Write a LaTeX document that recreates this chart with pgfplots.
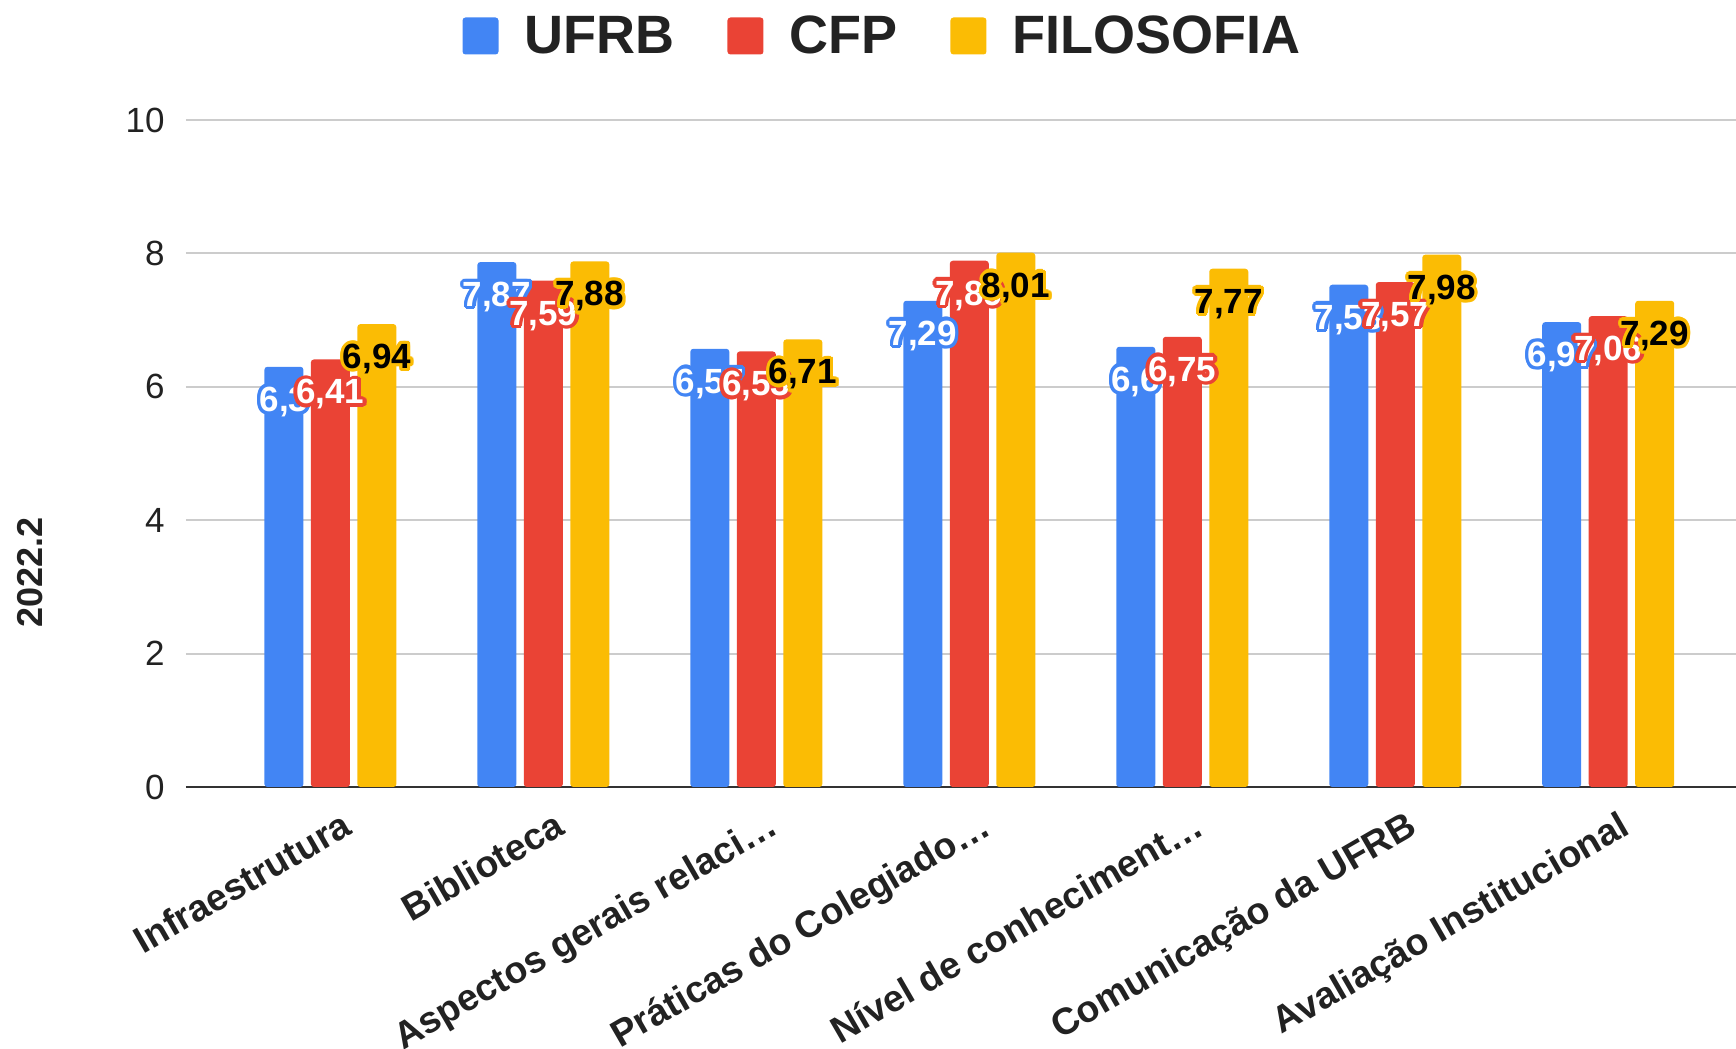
\documentclass[border=0pt]{standalone}
\usepackage{pgfplots}
\usepackage{pgfplotstable}
\pgfplotsset{compat=1.18}
\usepackage{fontspec}
\setmainfont{Liberation Sans}
\definecolor{cU}{HTML}{4285F4}
\definecolor{cC}{HTML}{EA4335}
\definecolor{cF}{HTML}{FBBC04}
\definecolor{txt}{HTML}{222222}
\definecolor{gridc}{HTML}{CCCCCC}
\definecolor{axc}{HTML}{333333}

\newcommand{\halotext}[3]{%
  \begingroup
  \setbox0=\hbox{#3}%
  \rlap{\color{#1}\foreach \a in {0,20,...,340}{\pgfmathsetlengthmacro\dx{1.7pt*cos(\a)}\pgfmathsetlengthmacro\dy{1.7pt*sin(\a)}\rlap{\kern\dx\raise\dy\copy0}}}%
  {\color{#2}\box0}%
  \endgroup}

\pgfplotstableread{
x U C F
0 6.30 6.41 6.94
1 7.87 7.59 7.88
2 6.57 6.53 6.71
3 7.29 7.89 8.01
4 6.60 6.75 7.77
5 7.53 7.57 7.98
6 6.97 7.06 7.29
}\data

\pgfplotsset{
  lbl/.style={ybar, bar width=19.5pt, bar shift=#1, draw=none, fill=none, forget plot,
    every node near coord/.append style={anchor=center, xshift=#1, yshift=-17.5pt, inner sep=0pt,
      font=\bfseries\fontsize{17.5}{20}\selectfont}},
}
\newcommand{\fmt}{\pgfmathprintnumber[fixed,precision=2,use comma]{\pgfplotspointmeta}}

\begin{document}
\begin{tikzpicture}
\useasboundingbox (-93pt,-131pt) rectangle (775pt,393.5pt);
\begin{axis}[
  at={(0,0)}, anchor=south west,
  scale only axis, width=775pt, height=333.5pt,
  xmin=-0.678, xmax=6.6, ymin=0, ymax=10,
  axis line style={draw=none},
  major tick length=0pt,
  ytick={0,2,4,6,8,10},
  ymajorgrids, grid style={gridc, line width=1pt},
  extra y ticks={0}, extra y tick labels={},
  extra y tick style={grid style={axc, line width=1.4pt}},
  /pgf/number format/assume math mode=true,
  yticklabel style={font=\fontsize{17.5}{20}\selectfont, text=txt, anchor=east, inner sep=0pt, xshift=-10.5pt},
  xtick={0,1,2,3,4,5,6},
  xticklabels={Infraestrutura, Biblioteca, Aspectos gerais relaci…, Práticas do Colegiado…, Nível de conheciment…, Comunicação da UFRB, Avaliação Institucional},
  xticklabel style={xshift=5pt, yshift=-11pt, rotate=30, anchor=north east, inner sep=0pt,
    font=\bfseries\fontsize{18.7}{20}\selectfont, text=txt},
  ylabel={2022.2},
  ylabel style={at={(axis description cs:-0.1006,0.322)}, anchor=center,
    font=\bfseries\fontsize{18}{20}\selectfont, text=txt},
  legend columns=-1,
  legend style={at={(axis description cs:0.4487,1)}, anchor=center, yshift=42pt,
    draw=none, fill=none, font=\bfseries\fontsize{27}{30}\selectfont, text=txt,
    nodes={inner sep=0pt},
    /tikz/every odd column/.append style={column sep=13pt},
    /tikz/every even column/.append style={column sep=26.5pt}},
  legend image code/.code={\fill[#1, rounded corners=1.5pt] (0pt,-9.25pt) rectangle (18pt,9.25pt);},
]
\addplot[ybar, bar width=19.5pt, bar shift=-23.25pt, fill=cU, draw=none, rounded corners=1.5pt] table[x=x,y=U]{\data};
\addlegendentry{UFRB}
\addplot[ybar, bar width=19.5pt, bar shift=0pt, fill=cC, draw=none, rounded corners=1.5pt] table[x=x,y=C]{\data};
\addlegendentry{CFP}
\addplot[ybar, bar width=19.5pt, bar shift=23.25pt, fill=cF, draw=none, rounded corners=1.5pt] table[x=x,y=F]{\data};
\addlegendentry{FILOSOFIA}

\addplot[lbl=-23.25pt, nodes near coords={\halotext{cU}{white}{\fmt}}] table[x=x,y=U]{\data};
\addplot[lbl=0pt, nodes near coords={\halotext{cC}{white}{\fmt}}] table[x=x,y=C]{\data};
\addplot[lbl=23.25pt, nodes near coords={\halotext{cF}{black}{\fmt}}] table[x=x,y=F]{\data};
\end{axis}
\end{tikzpicture}
\end{document}
